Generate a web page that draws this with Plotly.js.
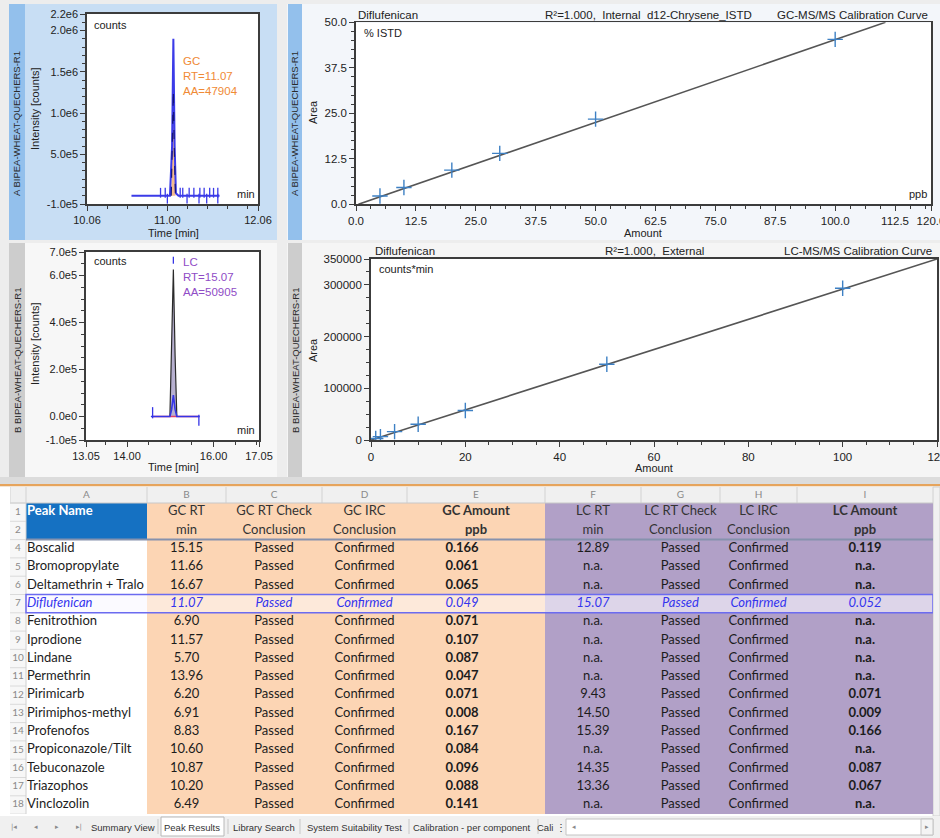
<!DOCTYPE html>
<html>
<head>
<meta charset="utf-8">
<script src="https://cdn.plot.ly/plotly-3.0.1.min.js"></script>
<style>
  html, body { margin: 0; padding: 0; background: #ffffff; }
  #chart { width: 940px; height: 838px; }
</style>
</head>
<body>
<div id="chart"></div>
<script>
// ---------- GC-MS/MS chromatogram, Diflufenican ----------
const gcTime       = [10.58, 11.03, 11.055, 11.07, 11.085, 11.10, 11.13, 11.61];
const gcIntensity  = [0, 0, 6.0e5, 1.9e6, 6.0e5, 3.0e4, 0, 0];
const gcQualTime   = [11.045, 11.06, 11.07, 11.08, 11.095];
const gcQualIntens = [0, 7.0e5, 1.27e6, 6.0e5, 0];
const gcMarksUp    = [10.92, 10.975, 11.15, 11.18, 11.255, 11.31, 11.38, 11.43, 11.495, 11.54, 11.59];
const gcMarksDown  = [11.0, 11.23, 11.37, 11.46, 11.59];
const gcXTicks = [10.06, 11.00, 12.06];
const gcXText  = ["10.06", "11.00", "12.06"];
const gcYTicks = [-1e5, 5e5, 1e6, 1.5e6, 2e6, 2.2e6];
const gcYText  = ["-1.0e5", "5.0e5", "1.0e6", "1.5e6", "2.0e6", "2.2e6"];

// ---------- LC-MS/MS chromatogram, Diflufenican ----------
const lcTime       = [14.55, 14.99, 15.03, 15.07, 15.11, 15.15, 15.68];
const lcQuant      = [0, 0, 2.6e5, 6.26e5, 2.6e5, 0, 0];
const lcQual       = [0, 0, 3.0e4, 9.1e4, 3.0e4, 0, 0];
const lcBaseTime   = [14.59, 15.66];
const lcBaseLevel  = [0, 0];
const lcMarksUp    = [14.59];
const lcMarksDown  = [15.66];
const lcXTicks = [13.05, 14.00, 16.00, 17.05];
const lcXText  = ["13.05", "14.00", "16.00", "17.05"];
const lcYTicks = [-1e5, 0, 2e5, 4e5, 6e5, 7e5];
const lcYText  = ["-1.0e5", "0.0e0", "2.0e5", "4.0e5", "6.0e5", "7.0e5"];

// ---------- Calibration curves ----------
const gcCalAmount   = [5, 10, 20, 30, 50, 100];
const gcCalResponse = [2.3, 4.6, 9.4, 14.0, 23.4, 45.3];
const gcFitAmount   = [0.5, 110.5];
const gcFitResponse = [0, 50];
const gcCalXTicks = [0, 12.5, 25, 37.5, 50, 62.5, 75, 87.5, 100, 112.5, 120];
const gcCalXText  = ["0.0", "12.5", "25.0", "37.5", "50.0", "62.5", "75.0", "87.5", "100.0", "112.5", "120.0"];
const gcCalYTicks = [0, 12.5, 25, 37.5, 50];
const gcCalYText  = ["0.0", "12.5", "25.0", "37.5", "50.0"];

const lcCalAmount   = [1, 2, 5, 10, 20, 50, 100];
const lcCalResponse = [3000, 6600, 16200, 30400, 56900, 146400, 293400];
const lcFitAmount   = [0, 120];
const lcFitResponse = [0, 350000];
const lcCalXTicks = [0, 20, 40, 60, 80, 100, 120];
const lcCalXText  = ["0", "20", "40", "60", "80", "100", "120"];
const lcCalYTicks = [0, 100000, 200000, 300000, 350000];
const lcCalYText  = ["0", "100000", "200000", "300000", "350000"];

// ---------- Peak results sheet ----------
const columnLetters = ["", "A", "B", "C", "D", "E", "F", "G", "H", "I"];
const headerLine1 = ["1", "Peak Name", "GC RT", "GC RT Check", "GC IRC", "GC Amount", "LC RT", "LC RT Check", "LC IRC", "LC Amount"];
const headerLine2 = ["2", "", "min", "Conclusion", "Conclusion", "ppb", "min", "Conclusion", "Conclusion", "ppb"];
const rowNumbers = ["4", "5", "6", "7", "8", "9", "10", "11", "12", "13", "14", "15", "16", "17", "18"];
const peakNames = ["Boscalid", "Bromopropylate", "Deltamethrin + Tralo", "Diflufenican", "Fenitrothion", "Iprodione",
  "Lindane", "Permethrin", "Pirimicarb", "Pirimiphos-methyl", "Profenofos", "Propiconazole/Tilt", "Tebuconazole",
  "Triazophos", "Vinclozolin"];
const gcRT = ["15.15", "11.66", "16.67", "11.07", "6.90", "11.57", "5.70", "13.96", "6.20", "6.91", "8.83", "10.60", "10.87", "10.20", "6.49"];
const gcRTCheck = ["Passed", "Passed", "Passed", "Passed", "Passed", "Passed", "Passed", "Passed", "Passed", "Passed", "Passed", "Passed", "Passed", "Passed", "Passed"];
const gcIRC = ["Confirmed", "Confirmed", "Confirmed", "Confirmed", "Confirmed", "Confirmed", "Confirmed", "Confirmed", "Confirmed", "Confirmed", "Confirmed", "Confirmed", "Confirmed", "Confirmed", "Confirmed"];
const gcAmount = ["0.166", "0.061", "0.065", "0.049", "0.071", "0.107", "0.087", "0.047", "0.071", "0.008", "0.167", "0.084", "0.096", "0.088", "0.141"];
const lcRT = ["12.89", "n.a.", "n.a.", "15.07", "n.a.", "n.a.", "n.a.", "n.a.", "9.43", "14.50", "15.39", "n.a.", "14.35", "13.36", "n.a."];
const lcRTCheck = ["Passed", "Passed", "Passed", "Passed", "Passed", "Passed", "Passed", "Passed", "Passed", "Passed", "Passed", "Passed", "Passed", "Passed", "Passed"];
const lcIRC = ["Confirmed", "Confirmed", "Confirmed", "Confirmed", "Confirmed", "Confirmed", "Confirmed", "Confirmed", "Confirmed", "Confirmed", "Confirmed", "Confirmed", "Confirmed", "Confirmed", "Confirmed"];
const lcAmount = ["0.119", "n.a.", "n.a.", "0.052", "n.a.", "n.a.", "n.a.", "n.a.", "0.071", "0.009", "0.166", "n.a.", "0.087", "0.067", "n.a."];
const selectedPeak = "Diflufenican";
const sheetTabs = ["Summary View", "Peak Results", "Library Search", "System Suitability Test", "Calibration - per component", "Cali \u22EE"];

// ---------- page geometry helpers (pixels -> paper fraction) ----------
const W = 940, H = 838;
const FX = v => v / W;
const FY = v => 1 - v / H;
const FONT = "Liberation Sans, Arial, sans-serif";
const INK = "#3c3c3c";

function rect(x0, y0, x1, y1, fill, line, layer) {
  return { type: "rect", xref: "paper", yref: "paper", x0: FX(x0), x1: FX(x1), y0: FY(y1), y1: FY(y0),
           fillcolor: fill, line: line || { width: 0 }, layer: layer || "below" };
}
function vline(x, y0, y1, color) {
  return { type: "line", xref: "paper", yref: "paper", x0: FX(x), x1: FX(x), y0: FY(y0), y1: FY(y1),
           line: { color: color, width: 1 }, layer: "above" };
}
function note(text, x, y, extra) {
  return Object.assign({ xref: "paper", yref: "paper", x: FX(x), y: FY(y), text: text, showarrow: false,
    xanchor: "left", yanchor: "middle", align: "left", font: { family: FONT, size: 11, color: "#222" } }, extra || {});
}

function axis(domain, range, tickvals, ticktext, minor, anchor, fontSize) {
  const a = {
    domain: domain, range: range, anchor: anchor, showgrid: false, zeroline: false,
    showline: true, mirror: true, linecolor: INK, linewidth: 1.8,
    ticks: "outside", ticklen: 5, tickwidth: 1, tickcolor: INK, ticklabeloverflow: "allow",
    tickfont: { family: FONT, size: fontSize || 11, color: "#222" },
    tickmode: "array", tickvals: tickvals, ticktext: ticktext, fixedrange: true
  };
  if (minor) a.minor = Object.assign({ tickmode: "linear", ticks: "outside", ticklen: 3, tickcolor: INK, showgrid: false }, minor);
  return a;
}

// ---------- chart traces ----------
const MARK = 3.6e4;
const traces = [
  // GC chromatogram
  { type: "scatter", mode: "lines", x: gcQualTime, y: gcQualIntens, xaxis: "x", yaxis: "y",
    fill: "tozeroy", fillcolor: "rgba(244,176,120,0.85)", line: { width: 0 } },
  { type: "scatter", mode: "lines", x: gcTime, y: gcIntensity, xaxis: "x", yaxis: "y",
    line: { color: "#3b3be8", width: 2 } },
  { type: "scatter", mode: "lines", x: gcQualTime, y: gcQualIntens, xaxis: "x", yaxis: "y",
    line: { color: "#15157a", width: 1.2, dash: "dash" } },
  { type: "scatter", mode: "markers", x: gcMarksUp, y: gcMarksUp.map(() => MARK), xaxis: "x", yaxis: "y",
    marker: { symbol: "line-ns", size: 7, line: { color: "#3b3be8", width: 1.3 } } },
  { type: "scatter", mode: "markers", x: gcMarksDown, y: gcMarksDown.map(() => -MARK), xaxis: "x", yaxis: "y",
    marker: { symbol: "line-ns", size: 7, line: { color: "#3b3be8", width: 1.3 } } },

  // GC calibration
  { type: "scatter", mode: "lines", x: gcFitAmount, y: gcFitResponse, xaxis: "x2", yaxis: "y2",
    line: { color: "#555555", width: 1.6 } },
  { type: "scatter", mode: "markers", x: gcCalAmount, y: gcCalResponse, xaxis: "x2", yaxis: "y2",
    marker: { symbol: "cross-thin", size: 11, line: { color: "#3d80c4", width: 1.4 } } },

  // LC chromatogram
  { type: "scatter", mode: "lines", x: lcTime.slice(1, 6), y: lcQuant.slice(1, 6), xaxis: "x3", yaxis: "y3",
    fill: "tozeroy", fillcolor: "rgba(170,162,200,0.85)", line: { color: "#2a2a2a", width: 1.2 } },
  { type: "scatter", mode: "lines", x: lcBaseTime, y: lcBaseLevel, xaxis: "x3", yaxis: "y3",
    line: { color: "#e0406a", width: 1.3 } },
  { type: "scatter", mode: "lines", x: lcTime, y: lcQual, xaxis: "x3", yaxis: "y3",
    line: { color: "#3535e6", width: 1.6 } },
  { type: "scatter", mode: "markers", x: lcMarksUp, y: lcMarksUp.map(() => 1.6e4), xaxis: "x3", yaxis: "y3",
    marker: { symbol: "line-ns", size: 8, line: { color: "#3535e6", width: 1.3 } } },
  { type: "scatter", mode: "markers", x: lcMarksDown, y: lcMarksDown.map(() => -1.6e4), xaxis: "x3", yaxis: "y3",
    marker: { symbol: "line-ns", size: 8, line: { color: "#3535e6", width: 1.3 } } },
  { type: "scatter", mode: "markers", x: [lcTime[3]], y: [6.65e5], xaxis: "x3", yaxis: "y3",
    marker: { symbol: "line-ns", size: 5, line: { color: "#3535e6", width: 1.3 } } },

  // LC calibration
  { type: "scatter", mode: "lines", x: lcFitAmount, y: lcFitResponse, xaxis: "x4", yaxis: "y4",
    line: { color: "#555555", width: 1.6 } },
  { type: "scatter", mode: "markers", x: lcCalAmount, y: lcCalResponse, xaxis: "x4", yaxis: "y4",
    marker: { symbol: "cross-thin", size: 11, line: { color: "#3d80c4", width: 1.4 } } }
];

// ---------- results sheet, drawn on its own pixel-unit axes ----------
const colWidths = [16, 121, 79, 96, 85, 138, 96, 79, 77, 136];
const LETTER_H = 16, ROW_H = 18.3;
const colEdges = [0];
colWidths.forEach(w => colEdges.push(colEdges[colEdges.length - 1] + w));
const nRows = 2 + rowNumbers.length;               // two header lines + data
const rowEdges = [0, LETTER_H];
for (let i = 0; i < nRows; i++) rowEdges.push(rowEdges[rowEdges.length - 1] + ROW_H);
const rowMid = i => (rowEdges[i] + rowEdges[i + 1]) / 2;
const sheetW = colEdges[colEdges.length - 1], sheetH = rowEdges[rowEdges.length - 1];

// fill palette, indexed by cell code
const palette = ["#ffffff", "#f7f7f7", "#f0f0f0", "#1571c2", "#fcd5b4", "#b1a0c7", "#fde9da", "#ddd5e9", "#fbfaff"];
const selIdx = peakNames.indexOf(selectedPeak);
const dataCols = [rowNumbers, peakNames, gcRT, gcRTCheck, gcIRC, gcAmount, lcRT, lcRTCheck, lcIRC, lcAmount];

const zCodes = [columnLetters.map(() => 2)];
for (let r = 0; r < nRows; r++) {
  const dataRow = r - 2, sel = dataRow === selIdx;
  zCodes.push(colWidths.map((_, c) => {
    if (c === 0) return 1;
    if (c === 1) return r < 2 ? 3 : (sel ? 8 : 0);
    if (c <= 5) return sel ? 6 : 4;
    return sel ? 7 : 5;
  }));
}
traces.push({
  type: "heatmap", x: colEdges, y: rowEdges, z: zCodes, xaxis: "x5", yaxis: "y5",
  zmin: 0, zmax: palette.length - 1, showscale: false, hoverinfo: "skip",
  colorscale: palette.map((c, i) => [i / (palette.length - 1), c])
});

// column letters
traces.push({
  type: "scatter", mode: "text", xaxis: "x5", yaxis: "y5", cliponaxis: false,
  x: colWidths.map((w, c) => colEdges[c] + w / 2), y: columnLetters.map(() => rowMid(0)),
  text: columnLetters, textposition: "middle center",
  textfont: { family: "Lato, sans-serif", size: 10, color: "#8a8a8a" }
});

// cell texts, one trace per column
const amountShift = { 5: -14 };
dataCols.forEach((col, c) => {
  const texts = [], colors = [], ys = [];
  let h1 = headerLine1[c], h2 = headerLine2[c];
  if (c === 1) h1 = "<b>" + h1 + "</b>";
  if (c === 5 || c === 9) { h1 = "<b>" + h1 + "</b>"; h2 = "<b>" + h2 + "</b>"; }
  const headInk = c === 0 ? "#8a8a8a" : c === 1 ? "#ffffff" : "#333333";
  texts.push(h1, h2); colors.push(headInk, headInk); ys.push(rowMid(1), rowMid(2));
  col.forEach((v, r) => {
    const sel = r === selIdx;
    let t = v;
    if (c > 0 && sel) t = "<i>" + v + "</i>";
    else if (c === 5 || c === 9) t = "<b>" + v + "</b>";
    texts.push(t);
    colors.push(c === 0 ? "#8a8a8a" : sel ? "#3434ee" : "#1c1c1c");
    ys.push(rowMid(r + 3));
  });
  const left = c === 1;
  const xc = left ? colEdges[c] + 1 : colEdges[c] + colWidths[c] / 2;
  traces.push({
    type: "scatter", mode: "text", xaxis: "x5", yaxis: "y5", cliponaxis: false,
    x: texts.map((_, i) => (i >= 2 && amountShift[c]) ? xc + amountShift[c] : xc), y: ys,
    text: texts, textposition: left ? "middle right" : "middle center",
    textfont: { family: "Lato, sans-serif", size: c === 0 ? 10 : 13, color: colors }
  });
});

// ---------- panels, frames and sheet chrome ----------
const shapes = [
  rect(0, 0, 940, 487, "#ededed"),
  rect(9, 4, 277, 240, "#c8def4"),
  rect(9, 4, 25, 240, "#93c0ec"),
  rect(287, 4, 940, 240, "#f3f6fa"),
  rect(288, 4, 302, 240, "#93c0ec"),
  rect(9, 243, 277, 477, "#f7f7f7"),
  rect(9, 243, 25, 477, "#cdcdcd"),
  rect(287, 243, 940, 477, "#f5f5f5"),
  rect(288, 243, 302, 477, "#cdcdcd"),
  rect(87, 14, 258, 204, "#ffffff"),
  rect(356, 23, 931, 204, "#ffffff"),
  rect(86, 252, 259, 440, "#ffffff"),
  rect(371, 259, 937, 440, "#ffffff"),
  rect(0, 477, 940, 484, "#dcdcdc"),
  rect(0, 484, 940, 486.5, "#e6a45c"),
  rect(0, 486.5, 940, 838, "#ffffff"),
  rect(933, 487, 940, 816, "#f1f1f1", { color: "#d0d0d0", width: 1 }),
  rect(0, 816, 940, 838, "#f0f0f0"),
  rect(161, 817, 224, 836, "#ffffff", { color: "#b8b8b8", width: 1 }, "above"),
  rect(566, 819, 933, 835, "#ffffff", { color: "#c4c4c4", width: 1 }, "above"),
  rect(921, 819, 933, 835, "#f4f4f4", { color: "#c4c4c4", width: 1 }, "above")
];
[158, 228, 300, 409, 538].forEach(x => shapes.push(vline(x, 819, 834, "#c8c8c8")));

// sheet grid: letter row separators, row-number column, header underline, selected row outline
const S = (o) => Object.assign({ xref: "x5", yref: "y5", layer: "above" }, o);
colEdges.forEach(x => shapes.push(S({ type: "line", x0: x, x1: x, y0: 0, y1: LETTER_H, line: { color: "#d2d2d2", width: 1 } })));
shapes.push(S({ type: "line", x0: 0, x1: sheetW, y0: LETTER_H, y1: LETTER_H, line: { color: "#c8c8c8", width: 1 } }));
rowEdges.slice(1).forEach(y => shapes.push(S({ type: "line", x0: 0, x1: colEdges[1], y0: y, y1: y, line: { color: "#dadada", width: 1 } })));
shapes.push(S({ type: "line", x0: colEdges[1], x1: colEdges[1], y0: LETTER_H, y1: sheetH, line: { color: "#d0d0d0", width: 1 } }));
shapes.push(S({ type: "line", x0: colEdges[1], x1: sheetW, y0: rowEdges[3], y1: rowEdges[3], line: { color: "#8692ad", width: 2 } }));
shapes.push(S({ type: "rect", x0: colEdges[1], x1: sheetW, y0: rowEdges[selIdx + 3], y1: rowEdges[selIdx + 4],
  fillcolor: "rgba(0,0,0,0)", line: { color: "#6b6bf0", width: 1.5 } }));

const GREY = "#222";
const annotations = [
  note("A BIPEA-WHEAT-QUECHERS-R1", 17, 124, { xanchor: "center", textangle: -90, font: { family: FONT, size: 9.5, color: "#2a2a2a" } }),
  note("A BIPEA-WHEAT-QUECHERS-R1", 295, 124, { xanchor: "center", textangle: -90, font: { family: FONT, size: 9.5, color: "#2a2a2a" } }),
  note("B BIPEA-WHEAT-QUECHERS-R1", 17, 360, { xanchor: "center", textangle: -90, font: { family: FONT, size: 9.5, color: "#2a2a2a" } }),
  note("B BIPEA-WHEAT-QUECHERS-R1", 295, 360, { xanchor: "center", textangle: -90, font: { family: FONT, size: 9.5, color: "#2a2a2a" } }),
  note("Intensity [counts]", 35, 109, { xanchor: "center", textangle: -90 }),
  note("Intensity [counts]", 35, 344, { xanchor: "center", textangle: -90 }),
  note("Area", 313, 112, { xanchor: "center", textangle: -90 }),
  note("Area", 313, 350, { xanchor: "center", textangle: -90 }),
  note("Time [min]", 173, 233, { xanchor: "center" }),
  note("Time [min]", 173, 467, { xanchor: "center" }),
  note("Amount", 643, 233, { xanchor: "center" }),
  note("Amount", 654, 468, { xanchor: "center" }),
  note("counts", 92, 25),
  note("min", 235, 194),
  note("counts", 92, 261),
  note("min", 235, 430),
  note("% ISTD", 362, 33),
  note("ppb", 907, 194),
  note("counts*min", 377, 269),
  note("GC<br>RT=" + gcRT[selIdx] + "<br>AA=47904", 181, 76, { font: { family: FONT, size: 11.5, color: "#f08a35" } }),
  note("LC<br>RT=" + lcRT[selIdx] + "<br>AA=50905", 181, 277, { font: { family: FONT, size: 11.5, color: "#8f4cc6" } }),
  note(selectedPeak, 356, 15, { font: { family: FONT, size: 11.5, color: GREY } }),
  note("R\u00b2=1.000,\u00a0\u00a0Internal\u00a0\u00a0d12-Chrysene_ISTD", 543, 15, { font: { family: FONT, size: 11.5, color: GREY } }),
  note("GC-MS/MS Calibration Curve", 930, 15, { xanchor: "right", font: { family: FONT, size: 11.5, color: GREY } }),
  note(selectedPeak, 373, 251, { font: { family: FONT, size: 11.5, color: GREY } }),
  note("R\u00b2=1.000,\u00a0\u00a0External", 603, 251, { font: { family: FONT, size: 11.5, color: GREY } }),
  note("LC-MS/MS Calibration Curve", 934, 251, { xanchor: "right", font: { family: FONT, size: 11.5, color: GREY } }),
  note("|\u25C2", 14, 827, { xanchor: "center", font: { family: "DejaVu Sans", size: 7, color: "#8a8a8a" } }),
  note("\u25C2", 36, 827, { xanchor: "center", font: { family: "DejaVu Sans", size: 7, color: "#8a8a8a" } }),
  note("\u25B8", 57, 827, { xanchor: "center", font: { family: "DejaVu Sans", size: 7, color: "#8a8a8a" } }),
  note("\u25B8|", 79, 827, { xanchor: "center", font: { family: "DejaVu Sans", size: 7, color: "#8a8a8a" } }),
  note("\u25C2", 574, 827, { xanchor: "center", font: { family: "DejaVu Sans", size: 7, color: "#8a8a8a" } }),
  note("\u25B8", 927, 827, { xanchor: "center", font: { family: "DejaVu Sans", size: 7, color: "#8a8a8a" } })
];
const tabCentres = [123, 192, 264, 354, 472, 551];
sheetTabs.forEach((t, i) => {
  annotations.push(note(t, tabCentres[i], 827, { xanchor: "center", font: { family: FONT, size: 9.5, color: "#333" } }));
});

const layout = {
  width: W, height: H,
  margin: { l: 0, r: 0, t: 0, b: 0 },
  paper_bgcolor: "#ffffff", plot_bgcolor: "rgba(0,0,0,0)",
  showlegend: false,
  xaxis:  axis([FX(87), FX(258)], [10.06, 12.06], gcXTicks, gcXText, { tick0: 10.06, dtick: 0.235 }, "y"),
  yaxis:  axis([FY(204), FY(14)], [-1e5, 2.2e6], gcYTicks, gcYText, { tick0: 0, dtick: 1e5 }, "x"),
  xaxis2: axis([FX(356), FX(931)], [0, 120], gcCalXTicks, gcCalXText, { tick0: 0, dtick: 3.125 }, "y2", 11.5),
  yaxis2: axis([FY(204.3), FY(22.3)], [0, 50], gcCalYTicks, gcCalYText, { tick0: 0, dtick: 2.5 }, "x2", 11.5),
  xaxis3: axis([FX(86), FX(259)], [13.05, 17.05], lcXTicks, lcXText, { tick0: 14, dtick: 0.5 }, "y3"),
  yaxis3: axis([FY(440), FY(252)], [-1e5, 7e5], lcYTicks, lcYText, { tick0: 0, dtick: 5e4 }, "x3"),
  xaxis4: axis([FX(371), FX(937)], [0, 120], lcCalXTicks, lcCalXText, { tick0: 0, dtick: 5 }, "y4", 11.5),
  yaxis4: axis([FY(440), FY(259)], [0, 350000], lcCalYTicks, lcCalYText, { tick0: 0, dtick: 25000 }, "x4", 11.5),
  xaxis5: { domain: [FX(10), FX(933)], range: [0, sheetW], visible: false, fixedrange: true, anchor: "y5" },
  yaxis5: { domain: [FY(487 + sheetH), FY(487)], range: [sheetH, 0], visible: false, fixedrange: true, anchor: "x5" },
  shapes: shapes,
  annotations: annotations
};

Plotly.newPlot("chart", traces, layout, { staticPlot: true, displayModeBar: false });
</script>
</body>
</html>
